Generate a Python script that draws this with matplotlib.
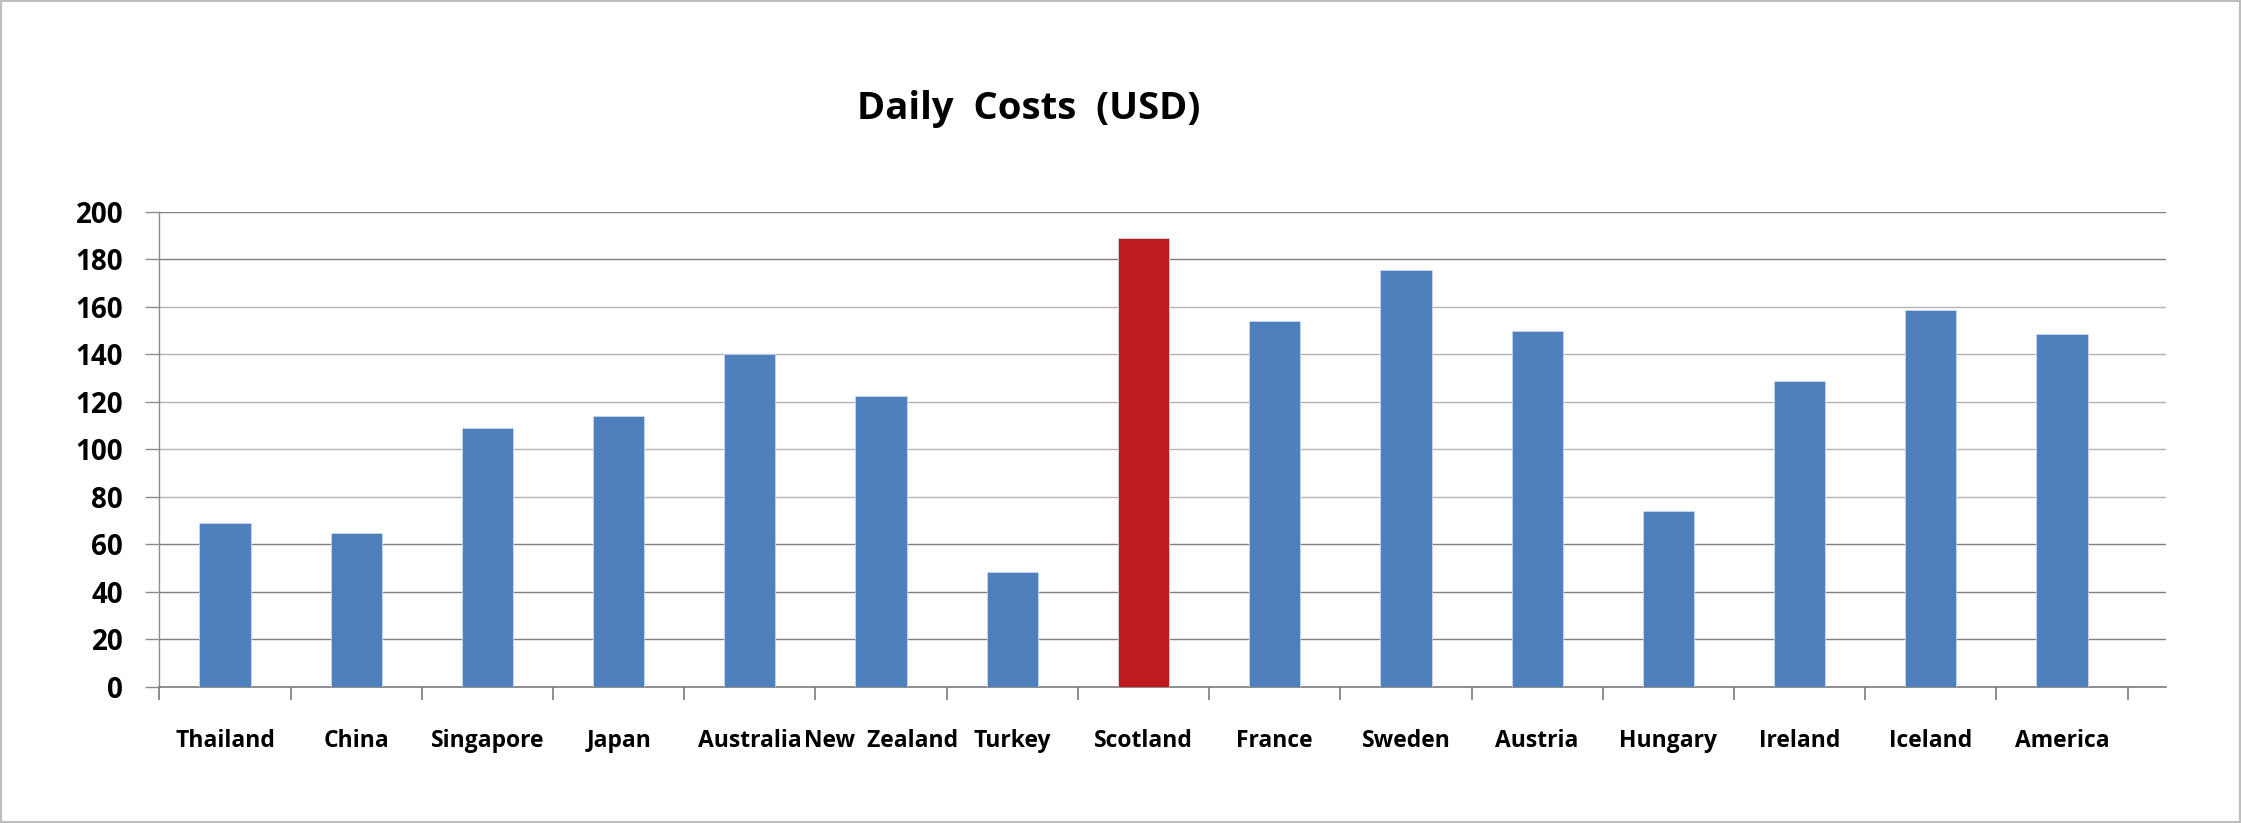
import matplotlib
matplotlib.use('Agg')
import matplotlib.pyplot as plt
from matplotlib.patches import Rectangle
import numpy as np

countries = ['Thailand', 'China', 'Singapore', 'Japan', 'Australia', 'New  Zealand',
             'Turkey', 'Scotland', 'France', 'Sweden', 'Austria', 'Hungary',
             'Ireland', 'Iceland', 'America']
costs = [69, 65, 109, 114, 140, 122.5, 48.5, 189, 154, 175.5, 150, 74, 129, 158.5, 148.5]
highlight = 'Scotland'
yticks = [0, 20, 40, 60, 80, 100, 120, 140, 160, 180, 200]

plt.rcParams['font.family'] = ['Open Sans', 'DejaVu Sans']
plt.rcParams['font.weight'] = 'bold'

fig = plt.figure(figsize=(22.41, 8.23), dpi=100)
ax = fig.add_axes([0.0711, 0.1653, 0.8953, 0.5772])

x = np.arange(len(countries))
colors = ['#BE1B21' if c == highlight else '#4D80BC' for c in countries]
ax.bar(x, costs, width=0.39, color=colors, edgecolor='#c9d8ec', linewidth=0.6, zorder=3)

ax.set_ylim(0, 200)
ax.set_xlim(-0.5, 14.79)
ax.set_yticks(yticks)
ax.set_yticklabels([str(v) for v in yticks], fontsize=20, fontweight='bold')
ax.tick_params(axis='y', length=10, width=1, color='#8c8c8c', pad=16)

ax.set_xticks(x)
ax.set_xticklabels(countries, fontsize=16.5, fontweight='bold')
ax.tick_params(axis='x', which='major', length=0, pad=30)
ax.set_xticks(np.arange(-0.5, 15, 1), minor=True)
ax.tick_params(axis='x', which='minor', length=9, width=1.2, color='#7a7a7a')

# gridlines, drawn in two greys like the original
for v in yticks[1:]:
    gc = '#b3b3b3' if 80 <= v <= 160 else '#7f7f7f'
    ax.axhline(v, color=gc, linewidth=1.0, zorder=1)

for s in ['top', 'right']:
    ax.spines[s].set_visible(False)
ax.spines['left'].set_color('#8c8c8c')
ax.spines['bottom'].set_color('#7a7a7a')
ax.spines['left'].set_linewidth(1.0)
ax.spines['bottom'].set_linewidth(1.2)

fig.text(1029 / 2241, 1 - 109 / 823, 'Daily  Costs  (USD)', fontsize=27.5,
         fontweight='bold', ha='center', va='center')

fig.patches.append(Rectangle((0.0005, 0.001), 0.999, 0.998, transform=fig.transFigure,
                             fill=False, edgecolor='#bdbdbd', linewidth=1.5))

fig.savefig('out.png', dpi=100)
